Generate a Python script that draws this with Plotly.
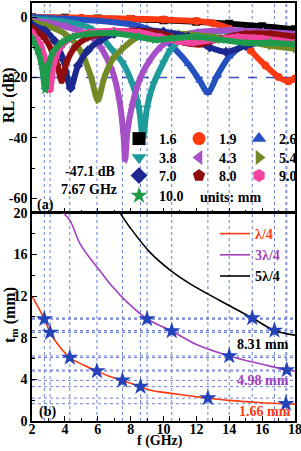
import plotly.graph_objects as go

# ---------------- top panel: reflection loss curves (f in GHz, RL in dB) -------------
f_16 = [2, 4, 6, 8, 10, 12, 14, 16, 18]
rl_16 = [0, -0.2, -0.4, -0.7, -1.0, -1.5, -2.2, -3.0, -4.0]

f_19 = [2, 5, 8, 10, 12, 13, 14, 14.7, 15.3, 16.2, 17.0, 17.6, 18]
rl_19 = [0, -0.2, -0.5, -0.8, -1.3, -2.0, -3.8, -7, -11, -16, -19.8, -21.2, -20.3]

f_26 = [2, 4, 6, 8, 9, 9.8, 10.6, 11.5, 12.2, 12.7, 13.3, 14.0, 14.8, 15.6, 16.5, 18]
rl_26 = [0, -0.5, -1.2, -2.4, -3.8, -6, -10, -15.5, -21, -25, -19, -13, -9.5, -7.5, -6.8, -6.5]

f_38 = [2, 4, 5.5, 6.3, 6.9, 7.5, 8.1, 8.5, 8.75, 9.0, 9.4, 10.0, 10.4, 11.2, 12.5, 14, 16, 18]
rl_38 = [-0.5, -1.5, -3.5, -7, -11, -15, -22, -30, -40, -30, -22, -15, -11, -7, -5, -4.5, -5, -6]

f_43 = [2, 3, 4, 5, 5.8, 6.3, 6.9, 7.3, 7.55, 7.67, 7.8, 8.1, 8.6, 9.2, 9.8, 10.6, 12, 14, 16, 18]
rl_43 = [-1, -1.8, -3, -4.8, -7.5, -11, -18, -27, -38, -47.1, -38, -29, -20, -14, -10, -7, -5, -4.3, -4.8, -5.5]

f_54 = [2, 3, 4, 4.7, 5.2, 5.6, 6.0, 6.4, 6.9, 7.5, 8.3, 9.5, 11, 13, 15, 16.5, 18]
rl_54 = [-1.5, -3, -5.5, -9, -14, -20, -27.5, -20, -14, -10.5, -7, -5.5, -5.5, -6.5, -8, -9.5, -10.5]

f_70 = [2, 2.8, 3.4, 3.9, 4.35, 4.8, 5.4, 6.2, 7, 8.5, 10, 11.5, 12.8, 13.8, 15, 16.5, 18]
rl_70 = [-2.5, -4.5, -8, -14, -23.5, -16, -11, -7.5, -5.5, -4.5, -4.8, -6.5, -10, -11.5, -9.5, -7.5, -7]

f_80 = [2, 2.7, 3.2, 3.55, 3.8, 4.1, 4.6, 5.3, 6.3, 8, 9.5, 10.5, 11.3, 12.2, 13.5, 15, 16.5, 18]
rl_80 = [-3.5, -6.5, -11, -16, -21, -15, -10, -7, -5.5, -4.5, -5, -6.5, -8.5, -9, -7, -5.5, -5.5, -6.5]

f_90 = [2, 2.5, 2.85, 3.1, 3.35, 3.8, 4.5, 5.5, 7, 8.5, 9.8, 10.8, 11.8, 13, 14.5, 16, 18]
rl_90 = [-5, -9, -15, -24, -15, -9.5, -6.5, -5, -4.5, -5, -6.5, -8, -8.5, -7.5, -6.5, -7, -8.5]

f_100 = [2, 2.35, 2.6, 2.8, 3.0, 3.3, 3.8, 4.5, 5.5, 7, 8.5, 9.5, 10.5, 12, 13.5, 15, 16.5, 18]
rl_100 = [-7, -11, -16, -24, -16, -11.5, -8.5, -6.5, -5.5, -5.3, -6.5, -7.5, -7, -6.5, -7.5, -8.5, -8.5, -9]

thickness_labels = ['1.6', '1.9', '2.6', '3.8', '4.3', '5.4', '7.0', '8.0', '9.0', '10.0']

# ---------------- bottom panel: quarter-wavelength thickness (mm) -------------
f_q1 = [2, 2.75, 3.1, 3.6, 4.3, 5.1, 5.95, 6.7, 7.5, 8.6, 9.2, 10, 11.2, 12.7, 14, 16, 17.45, 18]
t_q1 = [12.0, 9.8, 8.5, 7.3, 6.1, 5.4, 4.8, 4.3, 3.9, 3.3, 2.95, 2.75, 2.5, 2.2, 1.98, 1.75, 1.66, 1.62]

f_q3 = [3.9, 4.3, 4.9, 5.5, 6.1, 6.9, 7.8, 9.0, 10.5, 12, 14.0, 16, 17.5, 18]
t_q3 = [20.0, 19.3, 17.1, 15.7, 14.5, 12.9, 11.4, 9.8, 8.65, 7.35, 6.25, 5.45, 4.9, 4.8]

f_q5 = [7.35, 7.96, 9.18, 10.4, 11.6, 13.4, 15.4, 16.75, 18]
t_q5 = [20, 18.6, 16.2, 14.5, 13.2, 11.6, 9.9, 8.7, 8.25]

star_f1 = [2.75, 3.1, 4.3, 5.95, 7.5, 8.6, 12.7, 17.45]
star_t1 = [9.8, 8.5, 6.1, 4.8, 3.9, 3.3, 2.2, 1.66]
star_f3 = [9.0, 10.5, 14.0, 17.5]
star_t3 = [9.8, 8.65, 6.25, 4.9]
star_f5 = [15.4, 16.75]
star_t5 = [9.9, 8.7]

match_labels = ['8.31 mm', '4.98 mm', '1.66 mm']
series_names = ['λ/4', '3λ/4', '5λ/4']

x_ticks = [2, 4, 6, 8, 10, 12, 14, 16, 18]
rl_ticks = [0, -20, -40, -60]
rl_ticktext = ['0', '-20', '-40', '-60']
t_ticks = [0, 4, 8, 12, 16, 20]

# ---------------- styling -------------
FONT = 'Liberation Serif'
colors = ['#000000', '#ff3a10', '#2450c0', '#1f9a9a', '#a650c8', '#748a26',
          '#1c2890', '#8e0e0e', '#f2449e', '#1e9a4c']
symbols = ['square', 'circle', 'triangle-up', 'triangle-down', 'triangle-left',
           'triangle-right', 'diamond', 'pentagon', 'hexagon', 'star']
grid_col = '#6c7fd0'
star_col = '#2443b8'
q_colors = ['#ff3a10', '#a040c0', '#000000']

curves_f = [f_16, f_19, f_26, f_38, f_43, f_54, f_70, f_80, f_90, f_100]
curves_rl = [rl_16, rl_19, rl_26, rl_38, rl_43, rl_54, rl_70, rl_80, rl_90, rl_100]

fig = go.Figure()

for fx, ry, c, s in zip(curves_f, curves_rl, colors, symbols):
    fig.add_trace(go.Scatter(x=fx, y=ry, mode='lines+markers', xaxis='x', yaxis='y',
                             line=dict(color=c, width=6, shape='spline', smoothing=0.8),
                             marker=dict(symbol=s, color=c, size=8),
                             showlegend=False, hoverinfo='skip'))

# legend-only entries for the thickness key (4 rows -> 4 legends)
legend_ids = ['legend', 'legend', 'legend', 'legend2', 'legend2', 'legend2',
              'legend3', 'legend3', 'legend3', 'legend4']
for i, (lab, c, s, lg) in enumerate(zip(thickness_labels, colors, symbols, legend_ids)):
    last = (i % 3 == 2) or i == 9
    fig.add_trace(go.Scatter(x=[None], y=[None], mode='markers', name=lab, legend=lg,
                             marker=dict(symbol=s, color=c, size=13),
                             legendwidth=40 if last else None,
                             xaxis='x', yaxis='y'))

# bottom curves
for fx, ty, c, nm in zip([f_q1, f_q3, f_q5], [t_q1, t_q3, t_q5], q_colors, series_names):
    fig.add_trace(go.Scatter(x=fx, y=ty, mode='lines', xaxis='x2', yaxis='y2',
                             line=dict(color=c, width=1.6, shape='spline'),
                             name='<span style="color:%s">%s</span>' % (c, nm),
                             legend='legend5', hoverinfo='skip'))
for fx, ty in zip([star_f1, star_f3, star_f5], [star_t1, star_t3, star_t5]):
    fig.add_trace(go.Scatter(x=fx, y=ty, mode='markers', xaxis='x2', yaxis='y2',
                             marker=dict(symbol='star', color=star_col, size=13, line=dict(width=0)),
                             showlegend=False, hoverinfo='skip'))

# guide lines
shapes = []
for fv in star_f1 + star_f3 + star_f5:
    shapes.append(dict(type='line', xref='x', yref='paper', x0=fv, x1=fv, y0=0, y1=1,
                       line=dict(color=grid_col, width=1, dash='dot'), layer='below'))
for tv in star_t1 + star_t3 + star_t5:
    shapes.append(dict(type='line', xref='paper', yref='y2', x0=0, x1=1, y0=tv, y1=tv,
                       line=dict(color=grid_col, width=1, dash='dot'), layer='below'))
shapes.append(dict(type='line', xref='paper', yref='y', x0=0, x1=1, y0=-20, y1=-20,
                   line=dict(color='#3a4fc0', width=1.5, dash='dash'), layer='below'))

W, H = 301, 451
ML, MR, MT, MB = 32, 6, 3, 30
PW, PH = W - ML - MR, H - MT - MB


def px(x):
    return (x - ML) / PW


def py(y):
    return (H - MB - y) / PH


bold = dict(family=FONT, size=14, color='black', weight='bold')

i_min = rl_43.index(min(rl_43))
annotations = [
    dict(text='%.1f dB' % rl_43[i_min], x=px(90), y=py(172)),
    dict(text='%.2f GHz' % f_43[i_min], x=px(89), y=py(190)),
    dict(text='(a)', x=px(45), y=py(205)),
    dict(text='units: mm', x=px(230), y=py(197)),
    dict(text='(b)', x=px(47), y=py(412)),
    dict(text=match_labels[0], x=px(263), y=py(344)),
    dict(text=match_labels[1], x=px(263), y=py(380), font=dict(bold, color=q_colors[1])),
    dict(text=match_labels[2], x=px(265), y=py(411), font=dict(bold, color=q_colors[0])),
    dict(text='RL (dB)', x=px(9), y=py(95), textangle=-90, font=dict(bold, size=16)),
    dict(text='t<sub>m</sub> (mm)', x=px(10), y=py(315), textangle=-90, font=dict(bold, size=16)),
    dict(text='f (GHz)', x=px(160), y=py(451), yanchor='bottom', font=dict(bold, size=14)),
]
for a in annotations:
    a.setdefault('font', bold)
    a.setdefault('yanchor', 'middle')
    a.update(xref='paper', yref='paper', showarrow=False, xanchor='center')

axis_common = dict(showline=True, linecolor='black', linewidth=1.5, mirror=True,
                   ticks='inside', ticklen=5, tickwidth=1.2, tickcolor='black',
                   showgrid=False, zeroline=False, tickfont=bold,
                   minor=dict(ticks='inside', ticklen=3, tickwidth=1, tickcolor='black'))

leg_common = dict(orientation='h', xanchor='left', yanchor='middle', x=px(119),
                  font=bold, bgcolor='rgba(0,0,0,0)', borderwidth=0,
                  entrywidth=15, entrywidthmode='pixels', itemclick=False, itemdoubleclick=False)

fig.update_layout(
    width=W, height=H, margin=dict(l=ML, r=MR, t=MT, b=MB, autoexpand=False),
    paper_bgcolor='white', plot_bgcolor='white',
    xaxis=dict(axis_common, domain=[0, 1], anchor='y', range=[2, 18], tickvals=x_ticks,
               showticklabels=False, minor=dict(axis_common['minor'], dtick=1)),
    yaxis=dict(axis_common, domain=[0.499, 1], anchor='x', range=[-64.7, 4.7],
               tickvals=rl_ticks, ticktext=rl_ticktext, minor=dict(axis_common['minor'], dtick=10)),
    xaxis2=dict(axis_common, domain=[0, 1], anchor='y2', range=[2, 18], tickvals=x_ticks,
                ticklabelstandoff=-6, ticklabeloverflow='allow',
                minor=dict(axis_common['minor'], dtick=1)),
    yaxis2=dict(axis_common, domain=[0, 0.498], anchor='x2', range=[0, 20], tickvals=t_ticks,
                minor=dict(axis_common['minor'], dtick=2)),
    legend=dict(leg_common, y=py(139)),
    legend2=dict(leg_common, y=py(158)),
    legend3=dict(leg_common, y=py(176)),
    legend4=dict(leg_common, y=py(196)),
    legend5=dict(orientation='v', xanchor='left', yanchor='middle', x=px(215), y=py(255),
                 font=bold, bgcolor='rgba(0,0,0,0)', borderwidth=0, itemclick=False,
                 itemdoubleclick=False),
    shapes=shapes, annotations=annotations, hovermode=False,
)

fig.write_html('out.html', config={'displayModeBar': False})
